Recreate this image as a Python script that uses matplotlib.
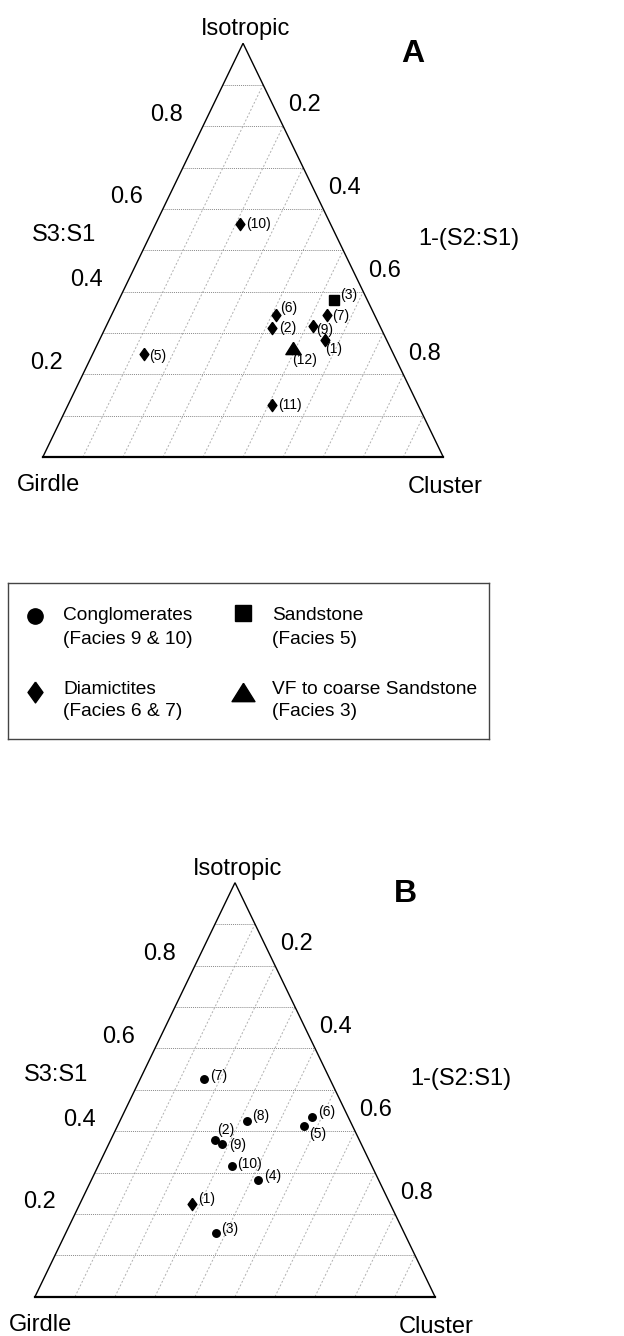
import numpy as np
import matplotlib
matplotlib.use("Agg")
import matplotlib.pyplot as plt
from matplotlib.path import Path

plt.rcParams['font.family'] = ['Liberation Sans', 'DejaVu Sans']

# ---- data: S3:S1 (isotropy) and 1-(S2:S1)
a_names = ['(1)', '(2)', '(3)', '(5)', '(6)', '(7)', '(9)', '(10)', '(11)', '(12)']
a_isotropy = [0.283, 0.312, 0.380, 0.250, 0.344, 0.344, 0.317, 0.564, 0.126, 0.265]
a_cluster = [0.563, 0.416, 0.538, 0.128, 0.410, 0.537, 0.515, 0.211, 0.510, 0.493]
a_kind = ['diam', 'diam', 'sand', 'diam', 'diam', 'diam', 'diam', 'diam', 'diam', 'vf']

b_names = ['(1)', '(2)', '(3)', '(4)', '(5)', '(6)', '(7)', '(8)', '(9)', '(10)']
b_isotropy = [0.225, 0.378, 0.155, 0.282, 0.413, 0.435, 0.525, 0.425, 0.369, 0.316]
b_cluster = [0.279, 0.261, 0.374, 0.416, 0.466, 0.476, 0.160, 0.317, 0.282, 0.334]
b_kind = ['diam', 'cong', 'cong', 'cong', 'cong', 'cong', 'cong', 'cong', 'cong', 'cong']

tick_values = [0.2, 0.4, 0.6, 0.8]

legend_kinds = ['cong', 'diam', 'sand', 'vf']
legend_names = ['Conglomerates\n(Facies 9 & 10)', 'Diamictites\n(Facies 6 & 7)',
                'Sandstone\n(Facies 5)', 'VF to coarse Sandstone\n(Facies 3)']

# label offsets in pixels (dx right, dy up) - layout only
a_offsets = [(0, -9), (7, 0), (5.5, 5), (5, -2), (4, 6.5), (5.5, -1), (4, -4), (6, 0), (5.5, 0), (-1, -12)]
b_offsets = [(6.5, 5), (2.5, 10), (5.5, 4), (6.5, 3.5), (5, -8), (5.5, 5), (6, 3.5), (5.5, 4.5), (8, -1), (5.5, 2)]

# ---- marker shapes
diamond = Path([(0, 1), (0.72, 0), (0, -1), (-0.72, 0), (0, 1)])
triangle = Path([(0, 0.8), (1, -0.8), (-1, -0.8), (0, 0.8)])
styles = {'cong': ('o', 5.4), 'diam': (diamond, 8.8), 'sand': ('s', 6.5), 'vf': (triangle, 11)}
legend_styles = {'cong': ('o', 11), 'diam': (diamond, 15), 'sand': ('s', 11), 'vf': (triangle, 16.5)}

PT = 0.72  # points per pixel at dpi 100


def note(ax, text, xy, dx, dy, size, **kw):
    ax.annotate(text, xy, xytext=(dx * PT, dy * PT), textcoords='offset points',
                fontsize=size, annotation_clip=False, **kw)


def ternary(ax, iso, clu, kind, names, offsets, letter):
    ax.set_xlim(0, 1)
    ax.set_ylim(0, 1)
    ax.axis('off')
    # grid
    for g in np.arange(1, 10) / 10:
        ax.plot([g / 2, 1 - g / 2], [g, g], color='#8a8a8a', lw=0.7, ls=(0, (1, 1)))
        ax.plot([g, g + (1 - g) / 2], [0, 1 - g], color='#b0b0b0', lw=0.7, ls=(0, (2, 2)))
    ax.plot([0, 1, 0.5, 0], [0, 0, 1, 0], color='k', lw=1.0, clip_on=False,
            solid_joinstyle='miter')
    ax.plot([0, 1], [0, 0], color='k', lw=1.6, clip_on=False)
    # points
    iso = np.array(iso)
    clu = np.array(clu)
    x = clu + iso / 2
    for k in set(kind):
        m = np.array([kk == k for kk in kind])
        mk, ms = styles[k]
        ax.plot(x[m], iso[m], ls='none', marker=mk, ms=ms, color='k', clip_on=False)
    for xi, yi, nm, (dx, dy) in zip(x, iso, names, offsets):
        note(ax, nm, (xi, yi), dx, dy, 10, ha='left', va='center')
    # tick labels
    for v in tick_values:
        note(ax, f'{v:.1f}', (v / 2, v), -36, 11.5, 17, ha='center', va='center')
        note(ax, f'{v:.1f}', (v + (1 - v) / 2, 1 - v), 21, 21, 17, ha='center', va='center')
    # corner and axis names
    note(ax, 'Isotropic', (0.5, 1), 3, 14, 17, ha='center', va='center')
    note(ax, 'Girdle', (0, 0), -26, -28, 17, ha='left', va='center')
    note(ax, 'Cluster', (1, 0), -36, -30, 17, ha='left', va='center')
    note(ax, 'S3:S1', (0, 0), -11, 222, 17, ha='left', va='center')
    note(ax, '1-(S2:S1)', (1, 0), -25, 218, 17, ha='left', va='center')
    note(ax, letter, (0.5, 1), 170, -11, 23, ha='center', va='center', fontweight='bold')


W, H = 624, 1336
fig = plt.figure(figsize=(W / 100, H / 100), dpi=100)

ax_a = fig.add_axes([42.7 / W, (H - 457.3) / H, 400.7 / W, 414 / H])
ternary(ax_a, a_isotropy, a_cluster, a_kind, a_names, a_offsets, 'A')

ax_b = fig.add_axes([35 / W, (H - 1296.7) / H, 400 / W, 414 / H])
ternary(ax_b, b_isotropy, b_cluster, b_kind, b_names, b_offsets, 'B')

# legend box, drawn in pixel units
lg = fig.add_axes([8 / W, (H - 739) / H, 481 / W, 156 / H])
lg.set_xlim(0, 481)
lg.set_ylim(156, 0)
lg.set_xticks([])
lg.set_yticks([])
for s in lg.spines.values():
    s.set_color('#444444')
    s.set_linewidth(1.0)
mx = [27, 27, 235, 235]
my = [33, 109, 30, 109]
tx = [55, 55, 264, 264]
for k, name, x0, y0, t0 in zip(legend_kinds, legend_names, mx, my, tx):
    mk, ms = legend_styles[k]
    lg.plot([x0], [y0], marker=mk, ms=ms, color='k', ls='none')
    first, second = name.split('\n')
    ty = 33 if y0 < 60 else 106
    lg.text(t0, ty, first, fontsize=13.8, ha='left', va='center')
    lg.text(t0, ty + 23, second, fontsize=13.8, ha='left', va='center')

fig.savefig('out.png', dpi=100)
